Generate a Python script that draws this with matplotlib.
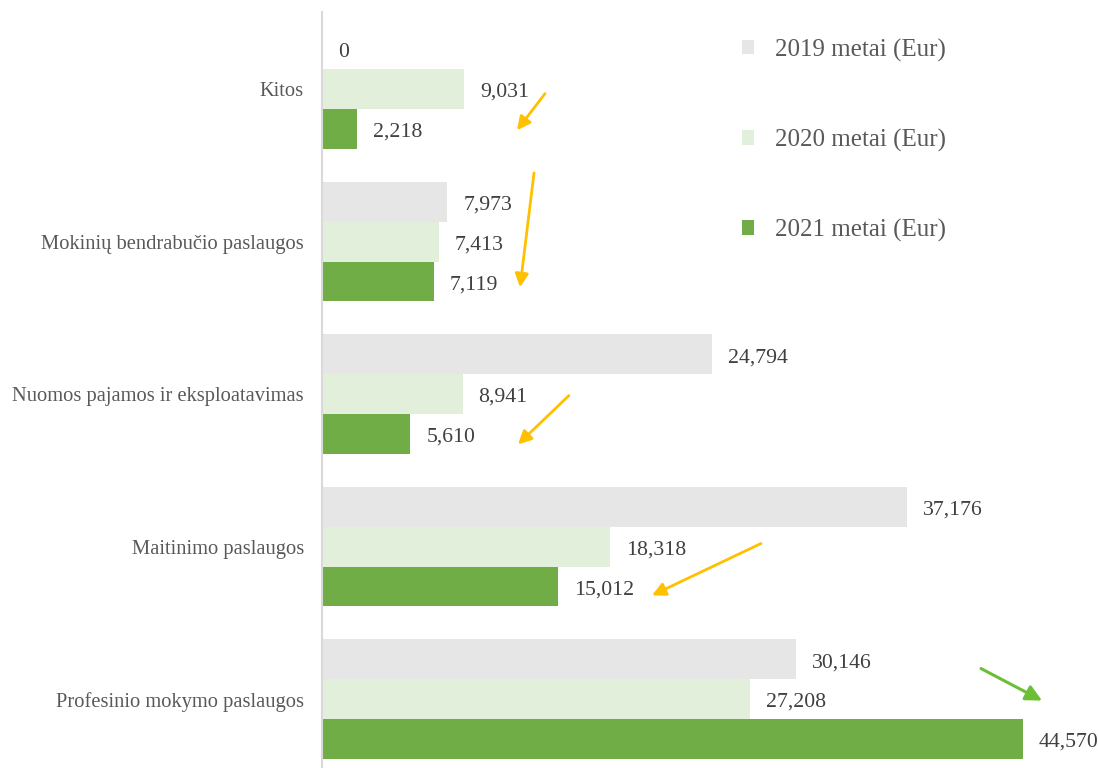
import matplotlib
matplotlib.use("Agg")
import matplotlib.pyplot as plt
import numpy as np

plt.rcParams.update({
    "font.family": ["Liberation Serif", "DejaVu Serif"],
})

categories = [
    "Kitos",
    "Mokinių bendrabučio paslaugos",
    "Nuomos pajamos ir eksploatavimas",
    "Maitinimo paslaugos",
    "Profesinio mokymo paslaugos",
]
series_names = ["2019 metai (Eur)", "2020 metai (Eur)", "2021 metai (Eur)"]
v2019 = [0, 7973, 24794, 37176, 30146]
v2020 = [9031, 7413, 8941, 18318, 27208]
v2021 = [2218, 7119, 5610, 15012, 44570]

colors = ["#E7E6E6", "#E2EFDA", "#70AD47"]

# trend arrows (tail -> head), data coordinates
orange_arrows = [
    ((14180, 0.03), (12400, 0.27)),
    ((13480, 0.55), (12590, 1.30)),
    ((15700, 2.01), (12460, 2.33)),
    ((27910, 2.98), (20980, 3.32)),
]
green_arrows = [
    ((41900, 3.80), (45780, 4.01)),
]


def main():
    fig = plt.figure(figsize=(10.99, 7.68), dpi=100)
    ax = fig.add_axes([322 / 1099, 0, 1 - 322 / 1099, (768 - 12) / 768])

    y = np.arange(len(categories))
    h = 0.262
    for k, (vals, col, name) in enumerate(zip([v2019, v2020, v2021], colors, series_names)):
        bars = ax.barh(y + (k - 1) * h, vals, height=h, color=col, label=name,
                       edgecolor="none")
        for b, v in zip(bars, vals):
            ax.annotate(f"{v:,}", (b.get_width(), b.get_y() + b.get_height() / 2),
                        xytext=(11.5, -2.5), textcoords="offset points",
                        va="center", ha="left", fontsize=15.7, color="#404040")

    for (x0, y0), (x1, y1) in orange_arrows:
        ax.annotate("", xy=(x1, y1), xytext=(x0, y0),
                    arrowprops=dict(arrowstyle="-|>", color="#FFC000", lw=2,
                                    mutation_scale=20, shrinkA=0, shrinkB=0))
    for (x0, y0), (x1, y1) in green_arrows:
        ax.annotate("", xy=(x1, y1), xytext=(x0, y0),
                    arrowprops=dict(arrowstyle="-|>", color="#6CBE34", lw=2.2,
                                    mutation_scale=24, shrinkA=0, shrinkB=0))

    ax.set_xlim(0, 49400)
    ax.set_ylim(4.452, -0.505)
    ax.set_yticks(y)
    ax.set_yticklabels(categories, fontsize=14.8, color="#595959")
    ax.tick_params(axis="y", length=0, pad=13)
    ax.set_xticks([])
    for s in ["top", "right", "bottom"]:
        ax.spines[s].set_visible(False)
    ax.spines["left"].set_color("#D9D9D9")
    ax.spines["left"].set_linewidth(1.5)

    fig.legend(loc="upper left", bbox_to_anchor=(719 / 1099, 1 - 16 / 768),
               frameon=False, fontsize=18, labelcolor="#595959",
               handlelength=0.5, handleheight=0.5, handletextpad=0.85,
               labelspacing=2.68)

    fig.savefig("out.png", dpi=100)
    plt.close(fig)


if __name__ == "__main__":
    main()
